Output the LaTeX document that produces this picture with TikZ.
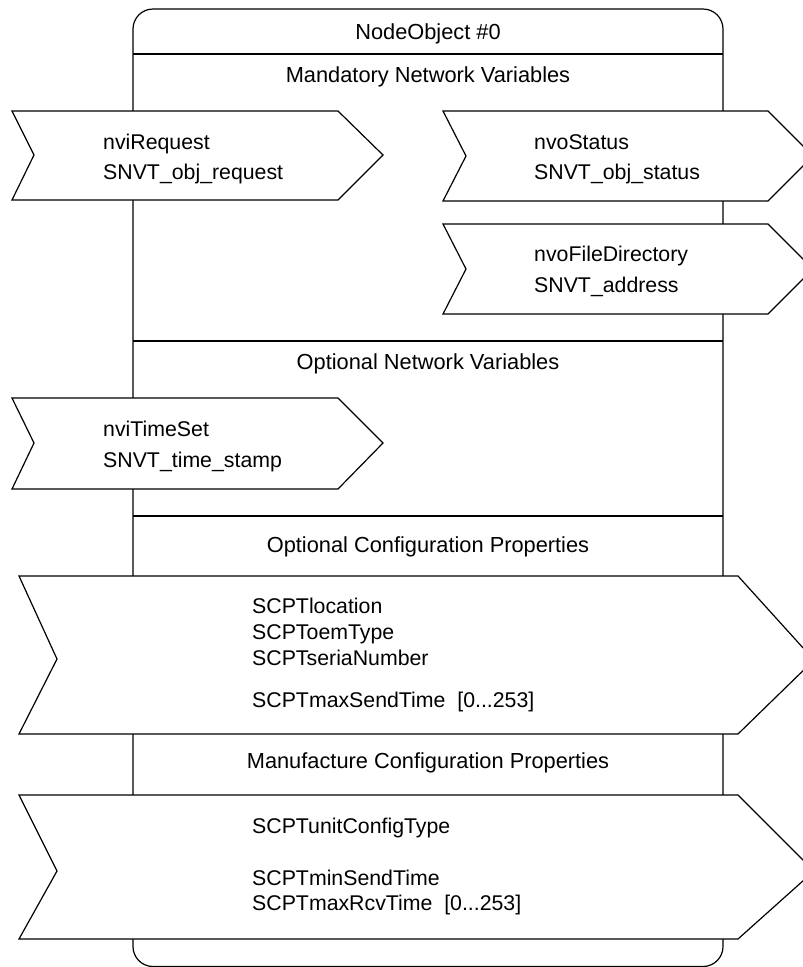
\documentclass[tikz,border=0pt]{standalone}
\usepackage{fontspec}
\setmainfont{Liberation Sans}
\begin{document}
\begin{tikzpicture}[x=1pt,y=-1pt,
  txt/.style={font=\fontsize{21.3}{21}\selectfont, inner sep=0pt, anchor=base west},
  sec/.style={font=\fontsize{21.8}{21}\selectfont, inner sep=0pt, anchor=base},
  chev/.style={draw=black, fill=white, line width=1.2pt, line join=miter},
  frame/.style={draw=black, line width=1.2pt}]
\useasboundingbox (0,0) rectangle (803,967);
\clip (0,0) rectangle (803,967);
% main object frame
\draw[frame, rounded corners=20pt] (133,9) rectangle (723,966.5);
\draw[frame] (133,54) -- (723,54);
\draw[frame] (133,341) -- (723,341);
\draw[frame] (133,516) -- (723,516);
% section titles
\node[sec] (title) at (428,39) {NodeObject \#0};
\node[sec] (mand) at (428,82) {Mandatory Network Variables};
\node[sec] (optnv) at (428,369) {Optional Network Variables};
\node[sec] (optcp) at (428,552) {Optional Configuration Properties};
% chevrons
\draw[chev] (12,111) -- (338,111) -- (383,155) -- (338,200) -- (12,200) -- (34,155) -- cycle;
\draw[chev] (443,111) -- (768,111) -- (813,156) -- (768,201) -- (443,201) -- (466,156) -- cycle;
\draw[chev] (443,224) -- (768,224) -- (813,269) -- (768,314) -- (443,314) -- (466,269) -- cycle;
\draw[chev] (12,398) -- (338,398) -- (383,443) -- (338,489) -- (12,489) -- (34,443) -- cycle;
\draw[chev] (19,576) -- (738,576) -- (814,660) -- (738,734) -- (19,734) -- (57,659) -- cycle;
\draw[chev] (19,795) -- (738,795) -- (814,871) -- (738,939) -- (19,939) -- (57,871) -- cycle;
\node[sec] (manuf) at (428,768) {Manufacture Configuration Properties};
% chevron texts
\node[txt] (nvireq) at (103,149) {nviRequest};
\node[txt] (nvireqt) at (103,179) {SNVT\_obj\_request};
\node[txt] (nvostat) at (534,149) {nvoStatus};
\node[txt] (nvostatt) at (534,179) {SNVT\_obj\_status};
\node[txt] (nvofile) at (534,261) {nvoFileDirectory};
\node[txt] (nvofilet) at (534,292) {SNVT\_address};
\node[txt] (nvitime) at (103,436) {nviTimeSet};
\node[txt] (nvitimet) at (103,467) {SNVT\_time\_stamp};
\node[txt] (cp1) at (252,613) {SCPTlocation};
\node[txt] (cp2) at (252,639) {SCPToemType};
\node[txt] (cp3) at (252,665) {SCPTseriaNumber};
\node[txt] (cp4) at (252,707) {SCPTmaxSendTime\ \ [0...253]};
\node[txt] (mp1) at (252,833) {SCPTunitConfigType};
\node[txt] (mp2) at (252,885) {SCPTminSendTime};
\node[txt] (mp3) at (252,910) {SCPTmaxRcvTime\ \ [0...253]};
\end{tikzpicture}
\end{document}
